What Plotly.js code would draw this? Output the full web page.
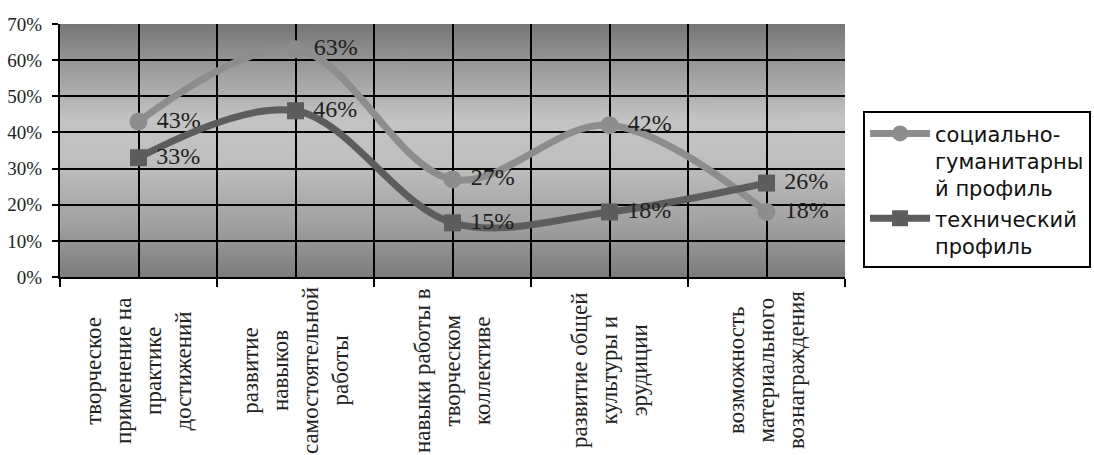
<!DOCTYPE html>
<html>
<head>
<meta charset="utf-8">
<script src="https://cdn.plot.ly/plotly-3.0.1.min.js"></script>
<style>html,body{margin:0;padding:0;background:#fff;}#chart{width:1094px;height:455px;}</style>
</head>
<body>
<div id="chart"></div>
<script>
const categories = [
  "творческое<br>применение на<br>практике<br>достижений",
  "развитие<br>навыков<br>самостоятельной<br>работы",
  "навыки работы в<br>творческом<br>коллективе",
  "развитие общей<br>культуры и<br>эрудиции",
  "возможность<br>материального<br>вознаграждения"
];
const seriesNames = ["социально-<br>гуманитарны<br>й профиль", "технический<br>профиль"];
const socialValues = [43, 63, 27, 42, 18];
const technicalValues = [33, 46, 15, 18, 26];
const yTickValues = [0, 10, 20, 30, 40, 50, 60, 70];
const yTickLabels = ["0%", "10%", "20%", "30%", "40%", "50%", "60%", "70%"];

// gradient background image
const cv = document.createElement('canvas');
cv.width = 8; cv.height = 256;
const ctx = cv.getContext('2d');
const g = ctx.createLinearGradient(0, 0, 0, 256);
g.addColorStop(0, '#767676');
g.addColorStop(0.15, '#979797');
g.addColorStop(0.38, '#c4c4c4');
g.addColorStop(0.55, '#bfbfbf');
g.addColorStop(0.8, '#a0a0a0');
g.addColorStop(1, '#7c7c7c');
ctx.fillStyle = g;
ctx.fillRect(0, 0, 8, 256);
const bgUrl = cv.toDataURL('image/png');

const idx = categories.map((_, i) => i);
const serif = 'Liberation Serif, Times New Roman, serif';

const traces = [
  {
    x: idx, y: socialValues, name: seriesNames[0], type: 'scatter',
    mode: 'lines+markers+text',
    line: {shape: 'spline', smoothing: 1, width: 7, color: '#8d8d8d'},
    marker: {symbol: 'circle', size: 18, color: '#8d8d8d'},
    text: socialValues.map(v => '\u00a0' + v + '%'),
    textposition: 'middle right',
    textfont: {family: serif, size: 24, color: '#1e1e1e'},
    hoverinfo: 'skip'
  },
  {
    x: idx, y: technicalValues, name: seriesNames[1], type: 'scatter',
    mode: 'lines+markers+text',
    line: {shape: 'spline', smoothing: 1, width: 7, color: '#5d5d5d'},
    marker: {symbol: 'square', size: 17, color: '#5d5d5d'},
    text: technicalValues.map(v => '\u00a0' + v + '%'),
    textposition: 'middle right',
    textfont: {family: serif, size: 24, color: '#1e1e1e'},
    hoverinfo: 'skip'
  }
];

const boundaries = [];
for (let i = 0; i <= categories.length; i++) boundaries.push(i - 0.5);
const halfGrid = [];
for (let i = 0; i < categories.length; i++) { halfGrid.push(i); if (i < categories.length - 1) halfGrid.push(i + 0.5); }

const annotations = categories.map((c, i) => ({
  x: i, xref: 'x', y: -0.37, yref: 'paper',
  text: c, showarrow: false, textangle: -90,
  xanchor: 'center', yanchor: 'middle', align: 'center',
  font: {family: 'Liberation Serif', size: 23, color: '#222'}
}));

const layout = {
  width: 1094, height: 455,
  margin: {l: 60, r: 249, t: 24, b: 178, autoexpand: false},
  paper_bgcolor: '#ffffff',
  plot_bgcolor: 'rgba(0,0,0,0)',
  showlegend: true,
  images: [{source: bgUrl, xref: 'paper', yref: 'paper', x: 0, y: 1, sizex: 1, sizey: 1,
    sizing: 'stretch', xanchor: 'left', yanchor: 'top', layer: 'below'}],
  xaxis: {
    range: [-0.5, categories.length - 0.5], fixedrange: true,
    tickmode: 'array', tickvals: boundaries, showticklabels: false,
    ticks: 'outside', ticklen: 8, tickwidth: 2, tickcolor: '#000',
    showgrid: false, zeroline: false,
    showline: true, linecolor: '#000', linewidth: 2,
    minor: {tickmode: 'array', tickvals: halfGrid, showgrid: true, gridcolor: '#000', gridwidth: 2, ticks: ''}
  },
  yaxis: {
    range: [0, 70], fixedrange: true,
    tickmode: 'array', tickvals: yTickValues, ticktext: yTickLabels,
    ticks: 'outside', ticklen: 6, tickwidth: 2, tickcolor: '#000',
    ticklabelstandoff: 6,
    tickfont: {family: serif, size: 19, color: '#222'},
    showgrid: false, zeroline: false,
    showline: true, linecolor: '#000', linewidth: 2,
    minor: {tickmode: 'array', tickvals: yTickValues.slice(1, -1), showgrid: true, gridcolor: '#000', gridwidth: 2, ticks: ''}
  },
  legend: {
    x: 1.023, y: 0.655, xanchor: 'left', yanchor: 'top',
    bgcolor: '#ffffff', bordercolor: '#000', borderwidth: 2,
    font: {family: 'DejaVu Sans, sans-serif', size: 21, color: '#111'},
    valign: 'top', itemwidth: 60, tracegroupgap: 0
  },
  annotations: annotations
};

Plotly.newPlot('chart', traces, layout, {displayModeBar: false, staticPlot: true});
</script>
</body>
</html>
